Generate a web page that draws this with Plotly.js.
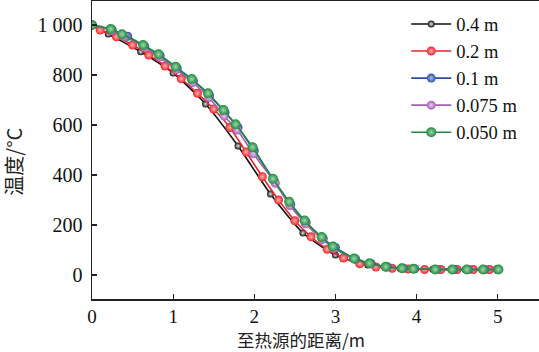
<!DOCTYPE html>
<html><head><meta charset="utf-8">
<script src="https://cdn.plot.ly/plotly-3.0.1.min.js"></script>
<style>html,body{margin:0;padding:0;background:#fff}#chart{width:539px;height:352px}</style>
</head><body><div id="chart"></div>
<script>
const seriesNames = ['0.4 m','0.2 m','0.1 m','0.075 m','0.050 m'];
const seriesColors = ['#111111','#e8262a','#2a4fa0','#a55fb5','#1f8a3c'];
const highlightColors = ['#e6e6e6','#ffb0b0','#a8bde8','#e8c8f0','#9fd8ae'];

const x04 = [0, 0.2, 0.6, 1.0, 1.4, 1.8, 2.2, 2.6, 3.0, 3.4, 3.8, 4.2, 4.6, 5.0];
const y04 = [1000, 964, 893, 808, 684, 516, 324, 168, 80, 40, 26, 23, 22, 22];

const x02 = [0, 0.1, 0.3, 0.5, 0.7, 0.9, 1.1, 1.3, 1.5, 1.7, 1.9, 2.1, 2.3, 2.5, 2.7, 2.9, 3.1, 3.3, 3.5, 3.7, 3.9, 4.1, 4.3, 4.5, 4.7, 4.9, 5.0];
const y02 = [1000, 980, 953, 920, 880, 836, 785, 727, 664, 590, 492, 393, 300, 217, 153, 103, 68, 45, 32, 27, 24, 22, 22, 22, 22, 22, 22];

const x01 = [0, 0.25, 0.44, 0.65, 0.84, 1.05, 1.25, 1.45, 1.64, 1.8, 2.0, 2.25, 2.45, 2.64, 2.85, 3.0, 3.25, 3.44, 3.64, 3.84, 3.98, 4.25, 4.46, 4.64, 4.84, 5.0];
const y01 = [1000, 980, 955, 915, 877, 827, 776, 717, 650, 590, 497, 374, 283, 210, 146, 110, 64, 46, 33, 27, 25, 22, 22, 22, 22, 22];

const x0075 = [0, 0.24, 0.4, 0.64, 0.83, 1.04, 1.24, 1.44, 1.63, 1.79, 1.99, 2.26, 2.44, 2.63, 2.84, 2.98, 3.24, 3.43, 3.63, 3.83, 3.97, 4.24, 4.45, 4.63, 4.83, 5.0];
const y0075 = [1000, 978, 955, 912, 872, 822, 770, 710, 636, 580, 485, 367, 278, 205, 142, 107, 63, 45, 32, 27, 25, 22, 22, 22, 22, 22];

const x005 = [0, 0.23, 0.37, 0.63, 0.82, 1.03, 1.23, 1.43, 1.62, 1.77, 1.98, 2.23, 2.43, 2.62, 2.83, 2.97, 3.23, 3.42, 3.62, 3.82, 3.96, 4.23, 4.44, 4.62, 4.82, 5.01];
const y005 = [1000, 984, 963, 920, 883, 833, 784, 727, 660, 603, 511, 385, 293, 218, 152, 114, 66, 47, 33, 27, 25, 22, 22, 22, 22, 22];

const yTickVals = [0, 200, 400, 600, 800, 1000];
const yTickText = ['0', '200', '400', '600', '800', '1 000'];
const xTickVals = [0, 1, 2, 3, 4, 5];

const xs = [x04, x02, x01, x0075, x005];
const ys = [y04, y02, y01, y0075, y005];
const sizes = [7, 9, 9, 9, 10];

const serif = 'Liberation Serif, Times New Roman, serif';
const cjk = 'Noto Sans CJK SC, sans-serif';

const traces = xs.map((x, i) => ({
  type: 'scatter', mode: 'lines+markers', name: seriesNames[i],
  x: x, y: ys[i],
  line: {color: seriesColors[i], width: 1.6, shape: 'spline', smoothing: 0.6},
  marker: {size: sizes[i], color: seriesColors[i], line: {width: 0},
           gradient: {type: 'radial', color: highlightColors[i]}}
}));

const layout = {
  width: 539, height: 352,
  margin: {l: 92, r: 0, t: 1, b: 53},
  paper_bgcolor: '#fff', plot_bgcolor: '#fff',
  font: {family: serif, size: 18, color: '#111'},
  showlegend: true,
  legend: {x: 0.703, xanchor: 'left', y: 0.985, yanchor: 'top', bgcolor: 'rgba(255,255,255,0.9)',
           font: {size: 18.5, family: serif}, tracegroupgap: 0, itemwidth: 40},
  xaxis: {range: [0, 5.51], tickvals: xTickVals, ticks: 'inside', ticklen: 5, tickwidth: 1.2,
          tickcolor: '#222', showline: true, linecolor: '#222', linewidth: 1.5, mirror: true,
          showgrid: false, zeroline: false, ticklabelstandoff: 0,
          tickfont: {family: serif, size: 19}},
  yaxis: {range: [-96, 1096], tickvals: yTickVals, ticktext: yTickText, ticks: 'inside', ticklen: 5,
          tickwidth: 1.2, tickcolor: '#222', showline: true, linecolor: '#222', linewidth: 1.5,
          mirror: false, showgrid: false, zeroline: false, ticklabelstandoff: 4,
          tickfont: {family: serif, size: 20}},
  annotations: [
    {text: '至热源的距离/m', xref: 'paper', yref: 'paper', x: 0.468, y: -0.135, yanchor: 'middle',
     xanchor: 'center', showarrow: false, font: {family: cjk, size: 17.5, color: '#222'}},
    {text: '温度/°C', xref: 'paper', yref: 'paper', x: -0.175, y: 0.46, textangle: -90,
     xanchor: 'center', yanchor: 'middle', showarrow: false, font: {family: cjk, size: 20, color: '#222'}}
  ]
};
Plotly.newPlot('chart', traces, layout, {displayModeBar: false, staticPlot: true});
</script></body></html>
